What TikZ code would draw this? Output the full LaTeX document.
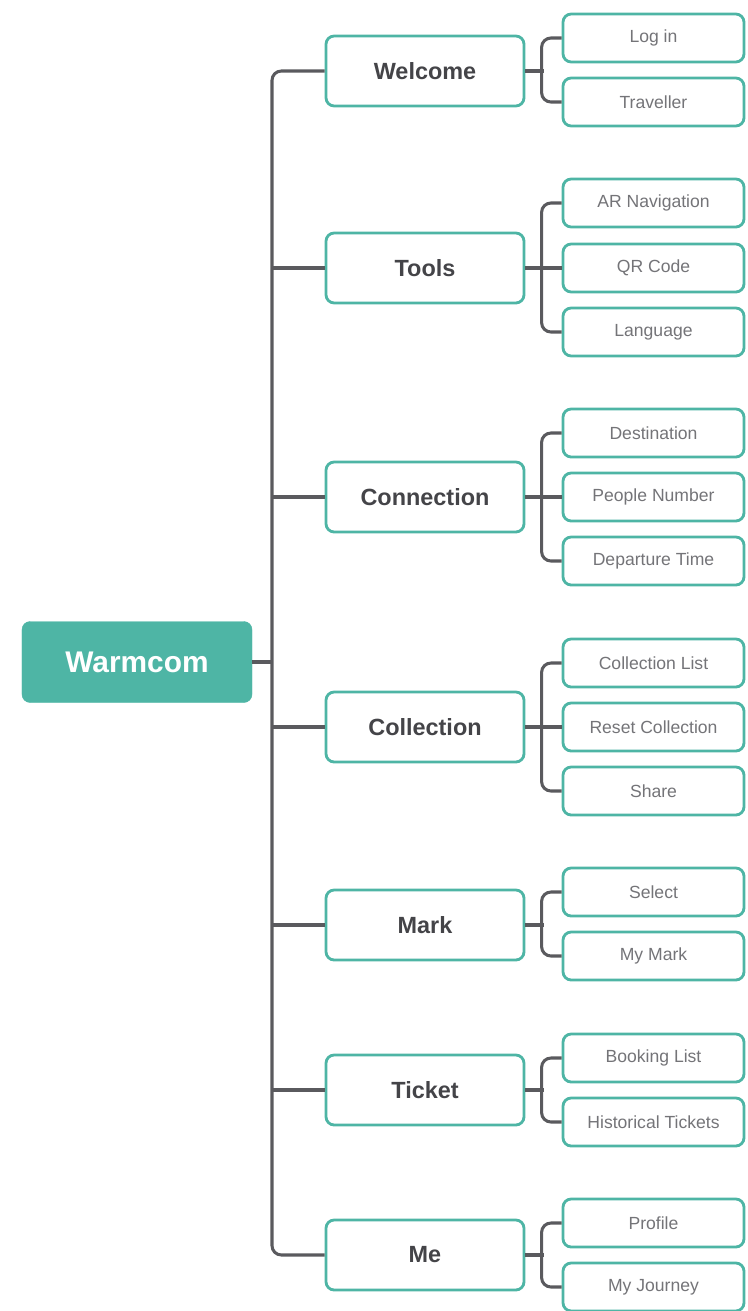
\documentclass[tikz,border=0pt]{standalone}
\usepackage{fontspec}
\setmainfont{Liberation Sans}

\definecolor{warmteal}{HTML}{4EB5A5}
\definecolor{linkgray}{HTML}{5A5A5E}
\definecolor{menutext}{HTML}{444448}
\definecolor{itemtext}{HTML}{747478}

\begin{document}
\begin{tikzpicture}[x=0.03cm, y=-0.03cm,
  rootbox/.style={fill=warmteal, draw=warmteal, rounded corners=7pt,
    minimum width=6.9cm, minimum height=2.43cm, text=white,
    font=\fontsize{25.5}{28}\selectfont\bfseries},
  menubox/.style={draw=warmteal, line width=2.4pt, fill=white, rounded corners=7pt,
    minimum width=5.94cm, minimum height=2.1cm, text=menutext,
    font=\fontsize{20}{23}\selectfont\bfseries},
  itembox/.style={draw=warmteal, line width=2.4pt, fill=white, rounded corners=7pt,
    minimum width=5.43cm, minimum height=1.44cm, text=itemtext,
    font=\fontsize{15}{18}\selectfont},
  link/.style={draw=linkgray, line width=2.6pt, rounded corners=8pt}]

  \useasboundingbox (0,0) rectangle (747,1311);

  % Root
  \node[rootbox] (warmcom) at (137,662) {Warmcom};

  % Menu boxes
  \foreach \name/\lab/\y in {welcome/Welcome/71, tools/Tools/268,
      connection/Connection/497, collection/Collection/727,
      mark/Mark/925, ticket/Ticket/1090, me/Me/1255}
    \node[menubox] (\name) at (425,\y) {\lab};

  % Item boxes
  \foreach \name/\lab/\y in {login/Log in/38, traveller/Traveller/102,
      arnav/AR Navigation/203, qrcode/QR Code/268, language/Language/332,
      destination/Destination/433, people/People Number/497, departure/Departure Time/561,
      colllist/Collection List/663, reset/Reset Collection/727, share/Share/791,
      select/Select/892, mymark/My Mark/956,
      booking/Booking List/1058, historical/Historical Tickets/1122,
      profile/Profile/1223, journey/My Journey/1287}
    \node[itembox] (\name) at (653.5,\y) {\lab};

  % Trunk
  \coordinate (trunkbot) at (272,1255);
  \draw[link] (welcome.west) -| (trunkbot) -- (me.west);
  \foreach \name in {tools,connection,collection,mark,ticket}
    \draw[link] (\name.west) -- (\name.west -| trunkbot);
  \draw[link] (warmcom.east) -- (warmcom.east -| trunkbot);

  % Branches
  \foreach \menu/\first/\last in {welcome/login/traveller, tools/arnav/language,
      connection/destination/departure, collection/colllist/share,
      mark/select/mymark, ticket/booking/historical, me/profile/journey} {
    \draw[link] (\first.west) -- ++(-20,0) |- (\last.west);
    \draw[link] (\menu.east) -- ++(19,0);
  }
  \foreach \mid in {qrcode,people,reset}
    \draw[link] (\mid.west) -- ++(-20,0);
\end{tikzpicture}
\end{document}
